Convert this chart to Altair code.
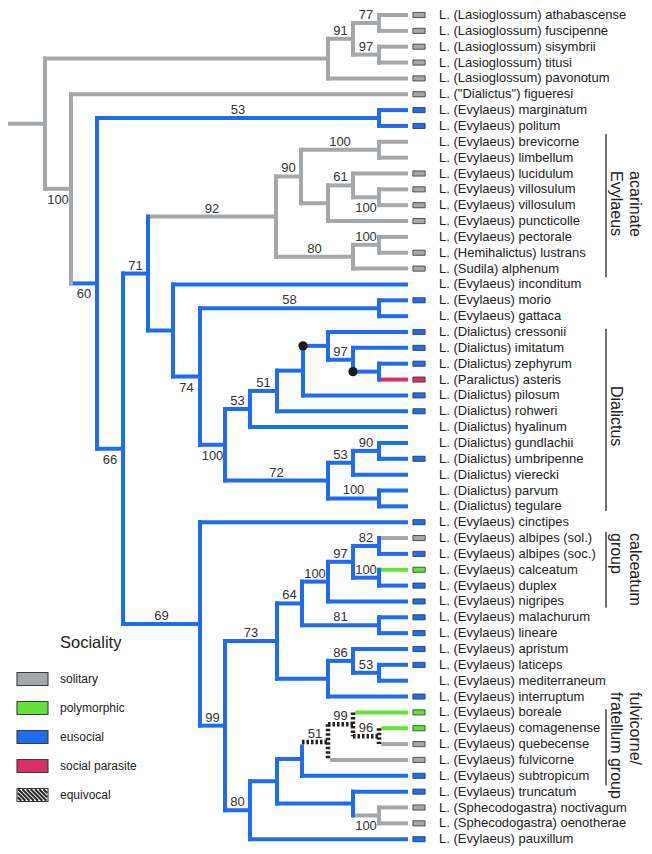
import altair as alt
import pandas as pd

# ---------------- data ----------------
LEAVES = [
    "L. (Lasioglossum) athabascense", "L. (Lasioglossum) fuscipenne",
    "L. (Lasioglossum) sisymbrii", "L. (Lasioglossum) titusi",
    "L. (Lasioglossum) pavonotum", 'L. ("Dialictus") figueresi',
    "L. (Evylaeus) marginatum", "L. (Evylaeus) politum",
    "L. (Evylaeus) brevicorne", "L. (Evylaeus) limbellum",
    "L. (Evylaeus) lucidulum", "L. (Evylaeus) villosulum",
    "L. (Evylaeus) villosulum", "L. (Evylaeus) puncticolle",
    "L. (Evylaeus) pectorale", "L. (Hemihalictus) lustrans",
    "L. (Sudila) alphenum", "L. (Evylaeus) inconditum",
    "L. (Evylaeus) morio", "L. (Evylaeus) gattaca",
    "L. (Dialictus) cressonii", "L. (Dialictus) imitatum",
    "L. (Dialictus) zephyrum", "L. (Paralictus) asteris",
    "L. (Dialictus) pilosum", "L. (Dialictus) rohweri",
    "L. (Dialictus) hyalinum", "L. (Dialictus) gundlachii",
    "L. (Dialictus) umbripenne", "L. (Dialictus) vierecki",
    "L. (Dialictus) parvum", "L. (Dialictus) tegulare",
    "L. (Evylaeus) cinctipes", "L. (Evylaeus) albipes (sol.)",
    "L. (Evylaeus) albipes (soc.)", "L. (Evylaeus) calceatum",
    "L. (Evylaeus) duplex", "L. (Evylaeus) nigripes",
    "L. (Evylaeus) malachurum", "L. (Evylaeus) lineare",
    "L. (Evylaeus) apristum", "L. (Evylaeus) laticeps",
    "L. (Evylaeus) mediterraneum", "L. (Evylaeus) interruptum",
    "L. (Evylaeus) boreale", "L. (Evylaeus) comagenense",
    "L. (Evylaeus) quebecense", "L. (Evylaeus) fulvicorne",
    "L. (Evylaeus) subtropicum", "L. (Evylaeus) truncatum",
    "L. (Sphecodogastra) noctivagum", "L. (Sphecodogastra) oenotherae",
    "L. (Evylaeus) pauxillum",
]

S, P, E, R, Q, N = "solitary", "polymorphic", "eusocial", "social parasite", "equivocal", None
TIP_BOX = [S, S, S, S, S, S, E, E, N, N, S, S, S, S, N, S, S, N, E, N,
           E, E, E, R, E, E, N, N, E, N, N, N, E, S, E, P, E, E, E, E,
           E, E, N, E, P, P, S, S, E, E, S, S, E]

# node depth (horizontal position)
NODE_X = {
    "root": 45, "Lasio": 328, "L2": 353, "L3a": 379, "L3b": 379,
    "A": 71, "B": 97, "M": 379, "C": 123, "D": 148,
    "Acar": 276, "A90": 301, "A100": 379, "Ax": 328, "A61": 353, "A100b": 379,
    "A80": 353, "A100c": 379,
    "E": 173, "E74": 200, "Mo": 379, "E100": 225, "E53": 250, "E51": 277,
    "Edot": 303, "Ecr": 328, "E97": 353, "Ez": 379, "E72": 328, "E53b": 353,
    "E90": 379, "E100d": 379,
    "N69": 200, "N99": 225, "N73": 277, "N64": 302, "N100e": 328, "N97b": 353,
    "N82": 379, "N100f": 379, "N81": 379, "Nap": 328, "N86": 353, "N53c": 379,
    "N80": 250, "Nx": 277, "N51b": 302, "Nq": 328, "N99c": 353, "N96": 379,
    "Ntr": 353, "N100g": 379,
}
TIP_DEPTH = 406
ROOT_STUB = 6

NODE_KIDS = {
    "root": ["Lasio", "A"], "Lasio": ["L2", 4], "L2": ["L3a", "L3b"],
    "L3a": [0, 1], "L3b": [2, 3],
    "A": [5, "B"], "B": ["M", "C"], "M": [6, 7], "C": ["D", "N69"], "D": ["Acar", "E"],
    "Acar": ["A90", "A80"], "A90": ["A100", "Ax"], "A100": [8, 9], "Ax": ["A61", 13],
    "A61": [10, "A100b"], "A100b": [11, 12], "A80": ["A100c", 16], "A100c": [14, 15],
    "E": [17, "E74"], "E74": ["Mo", "E100"], "Mo": [18, 19], "E100": ["E53", "E72"],
    "E53": ["E51", 26], "E51": ["Edot", 25], "Edot": ["Ecr", 24], "Ecr": [20, "E97"],
    "E97": [21, "Ez"], "Ez": [22, 23], "E72": ["E53b", "E100d"], "E53b": ["E90", 29],
    "E90": [27, 28], "E100d": [30, 31],
    "N69": [32, "N99"], "N99": ["N73", "N80"], "N73": ["N64", "Nap"],
    "N64": ["N100e", "N81"], "N100e": ["N97b", 37], "N97b": ["N82", "N100f"],
    "N82": [33, 34], "N100f": [35, 36], "N81": [38, 39], "Nap": ["N86", 43],
    "N86": [40, "N53c"], "N53c": [41, 42],
    "N80": ["Nx", 52], "Nx": ["N51b", "Ntr"], "N51b": ["Nq", 48], "Nq": ["N99c", 47],
    "N99c": [44, "N96"], "N96": [45, 46], "Ntr": [49, "N100g"], "N100g": [50, 51],
}

SUPPORT = {
    "L2": 91, "L3a": 77, "L3b": 97, "A": 100, "B": 60, "M": 53, "C": 66, "D": 71,
    "Acar": 92, "A90": 90, "A100": 100, "A61": 61, "A100b": 100, "A80": 80, "A100c": 100,
    "E74": 74, "Mo": 58, "E100": 100, "E53": 53, "E51": 51, "E97": 97, "E72": 72,
    "E53b": 53, "E90": 90, "E100d": 100, "N69": 69, "N99": 99, "N73": 73, "N64": 64,
    "N100e": 100, "N97b": 97, "N82": 82, "N100f": 100, "N81": 81, "N86": 86, "N53c": 53,
    "N80": 80, "Nq": 51, "N99c": 99, "N96": 96, "N100g": 100,
}
SUPPORT_BELOW = {"A", "B", "C", "E74", "E100", "A100b", "N100g"}
DOT_BRANCHES = ["Ecr", "Ez"]

SOLITARY_CLADES = ["Lasio", "Acar", "N100g"]
BRANCH_OVERRIDE = {"A": S, "t5": S, "t23": R, "t33": S, "t35": P, "t44": P, "t45": P,
                   "t46": S, "t47": S, "Nq": Q, "N99c": Q, "N96": Q}
VERT_OVERRIDE = {"root": S, "A": S, "Nq": Q, "N99c": Q, "N96": Q}

CLADE_NAMES = ["acarinate\nEvylaeus", "Dialictus", "calceatum\ngroup", "fulvicorne/\nfratellum group"]
CLADE_START = [7.5, 19.8, 32.6, 43.8]
CLADE_END = [16.55, 31.3, 37.4, 48.6]
CLADE_TEXT_START = [9.85, 23.4, 32.68, 42.72]

LEGEND_TITLE = "Sociality"
LEGEND_STATES = ["solitary", "polymorphic", "eusocial", "social parasite", "equivocal"]
STATE_COLORS = ["#a4a8ab", "#62e23a", "#1f6cf0", "#d92e66", "#ffffff"]

# ---------------- layout / style ----------------
FONT = "Liberation Sans"
W, H = 636, 838
LEAF0_PX, LEAF_STEP = 15.0, 15.85
Y_TOP = (8 - LEAF0_PX) / LEAF_STEP
Y_BOT = (8 + H - LEAF0_PX) / LEAF_STEP
BOX_X = 419
LABEL_X = 439
CLADE_LINE_X = 606
LEG_TOP_PX, LEG_STEP_PX = 679, 29
SW_X0, SW_X1, SW_H = 17, 48, 13
LEG_LABEL_X = 60

def px2row(py):
    return (py - LEAF0_PX) / LEAF_STEP

# ---------------- build tree geometry ----------------
def nid(n):
    return f"t{n}" if isinstance(n, int) else n

branch_state, vert_state = {}, {}

def paint(n, st):
    branch_state[nid(n)] = st
    if not isinstance(n, int):
        vert_state[n] = st
        for k in NODE_KIDS[n]:
            paint(k, st)

for c in SOLITARY_CLADES:
    paint(c, S)
branch_state.update(BRANCH_OVERRIDE)
vert_state.update(VERT_OVERRIDE)

ycache = {}
def ny(n):
    if isinstance(n, int):
        return float(n)
    if n not in ycache:
        k = NODE_KIDS[n]
        ycache[n] = (ny(k[0]) + ny(k[-1])) / 2
    return ycache[n]

def nx(n):
    return TIP_DEPTH if isinstance(n, int) else NODE_X[n]

hseg, vseg, labels, dots = [], [], [], []
hseg.append(dict(x=ROOT_STUB, x2=NODE_X["root"], y=ny("root"), y2=ny("root"), state=S))

def walk(n):
    kids = NODE_KIDS[n]
    vseg.append(dict(x=nx(n), x2=nx(n), y=ny(kids[0]), y2=ny(kids[-1]),
                     state=vert_state.get(n, E)))
    for k in kids:
        hseg.append(dict(x=nx(n), x2=nx(k), y=ny(k), y2=ny(k),
                         state=branch_state.get(nid(k), E)))
        if nid(k) in SUPPORT:
            labels.append(dict(x=(nx(n) + nx(k)) / 2, y=ny(k), text=str(SUPPORT[nid(k)]),
                               pos="below" if nid(k) in SUPPORT_BELOW else "above"))
        if nid(k) in DOT_BRANCHES:
            dots.append(dict(x=nx(n), y=ny(k)))
        if not isinstance(k, int):
            walk(k)

walk("root")

segs = pd.DataFrame(hseg + vseg)
segs["kind"] = ["h"] * len(hseg) + ["v"] * len(vseg)
lab_df = pd.DataFrame(labels)
dot_df = pd.DataFrame(dots)

leaf_df = pd.DataFrame({"name": LEAVES, "y": [float(i) for i in range(len(LEAVES))],
                        "state": TIP_BOX})
leaf_df["lx"] = LABEL_X
leaf_df["bx"] = BOX_X
box_df = leaf_df.dropna(subset=["state"])

clade_df = pd.DataFrame({"name": CLADE_NAMES, "y": CLADE_START, "y2": CLADE_END,
                         "ty": CLADE_TEXT_START})
clade_df["x"] = CLADE_LINE_X
clade_df["tx"] = [CLADE_LINE_X + 18 + 19 * s.count("\n") for s in CLADE_NAMES]

# legend rows (drawn as marks)
leg_cy = [LEG_TOP_PX + LEG_STEP_PX * i for i in range(len(LEGEND_STATES))]
leg_df = pd.DataFrame({
    "state": LEGEND_STATES,
    "x": SW_X0, "x2": SW_X1, "lx": LEG_LABEL_X,
    "y": [px2row(c - SW_H / 2) for c in leg_cy],
    "y2": [px2row(c + SW_H / 2) for c in leg_cy],
    "yc": [px2row(c) for c in leg_cy],
})
# hatch stripes for the 'equivocal' swatch
hc = leg_cy[LEGEND_STATES.index("equivocal")]
top, bot = hc - SW_H / 2 + 0.8, hc + SW_H / 2 - 0.8
hs = []
x0 = SW_X0 - (bot - top)
while x0 < SW_X1:
    ax, ay, bx, by = x0, top, x0 + (bot - top), bot
    if ax < SW_X0 + 0.8:
        ay += (SW_X0 + 0.8 - ax)
        ax = SW_X0 + 0.8
    if bx > SW_X1 - 0.8:
        by -= (bx - (SW_X1 - 0.8))
        bx = SW_X1 - 0.8
    if bx - ax > 0.8:
        hs.append(dict(x=ax, x2=bx, y=px2row(ay), y2=px2row(by)))
    x0 += 4.2
hatch_df = pd.DataFrame(hs)

# ---------------- chart ----------------
xs = alt.Scale(domain=[8, 8 + W], nice=False, zero=False)
ys = alt.Scale(domain=[Y_TOP, Y_BOT], nice=False, zero=False, reverse=True)
cs = alt.Scale(domain=LEGEND_STATES, range=STATE_COLORS)

X = lambda f: alt.X(f, scale=xs, axis=None)
Y = lambda f: alt.Y(f, scale=ys, axis=None)
COL = alt.Color("state:N", scale=cs, legend=None)

solid = segs[segs.state != Q]
equiv = segs[segs.state == Q]

h_layer = alt.Chart(solid[solid.kind == "h"]).mark_rule(strokeWidth=4, strokeCap="square").encode(
    x=X("x:Q"), x2="x2:Q", y=Y("y:Q"), y2="y2:Q", color=COL)
v_layer = alt.Chart(solid[solid.kind == "v"]).mark_rule(strokeWidth=4, strokeCap="square").encode(
    x=X("x:Q"), x2="x2:Q", y=Y("y:Q"), y2="y2:Q", color=COL)
q_base = alt.Chart(equiv).mark_rule(strokeWidth=4.5, strokeCap="square", color="#ffffff").encode(
    x=X("x:Q"), x2="x2:Q", y=Y("y:Q"), y2="y2:Q")
q_layer = alt.Chart(equiv).mark_rule(strokeWidth=4.5, strokeDash=[2.5, 2], color="#222222").encode(
    x=X("x:Q"), x2="x2:Q", y=Y("y:Q"), y2="y2:Q")

dot_layer = alt.Chart(dot_df).mark_circle(size=85, color="#1a1a1a", opacity=1).encode(
    x=X("x:Q"), y=Y("y:Q"))

sup_above = alt.Chart(lab_df[lab_df.pos == "above"]).mark_text(
    font=FONT, fontSize=13, color="#333333", baseline="middle", dy=-8).encode(
    x=X("x:Q"), y=Y("y:Q"), text="text:N")
sup_below = alt.Chart(lab_df[lab_df.pos == "below"]).mark_text(
    font=FONT, fontSize=13, color="#333333", baseline="middle", dy=11).encode(
    x=X("x:Q"), y=Y("y:Q"), text="text:N")

box_layer = alt.Chart(box_df).mark_point(
    filled=True, shape="M-1,-0.42L1,-0.42L1,0.42L-1,0.42Z", size=150,
    stroke="#333333", strokeWidth=0.8, opacity=1).encode(
    x=X("bx:Q"), y=Y("y:Q"), color=COL)

leaf_text = alt.Chart(leaf_df).mark_text(
    font=FONT, fontSize=13, color="#222222", align="left", baseline="middle").encode(
    x=X("lx:Q"), y=Y("y:Q"), text="name:N")

clade_rule = alt.Chart(clade_df).mark_rule(strokeWidth=1.2, color="#111111").encode(
    x=X("x:Q"), y=Y("y:Q"), y2="y2:Q")
clade_text = alt.Chart(clade_df).mark_text(
    font=FONT, fontSize=16, color="#222222", angle=90, align="left", baseline="top",
    lineBreak="\n", lineHeight=19).encode(
    x=X("tx:Q"), y=Y("ty:Q"), text="name:N")

# legend
leg_swatch = alt.Chart(leg_df).mark_rect(stroke="#3a3a3a", strokeWidth=1.1, opacity=1).encode(
    x=X("x:Q"), x2="x2:Q", y=Y("y:Q"), y2="y2:Q", color=COL)
leg_hatch = alt.Chart(hatch_df).mark_rule(strokeWidth=2.1, color="#2a2a2a").encode(
    x=X("x:Q"), x2="x2:Q", y=Y("y:Q"), y2="y2:Q")
leg_text = alt.Chart(leg_df).mark_text(
    font=FONT, fontSize=12, color="#222222", align="left", baseline="middle").encode(
    x=X("lx:Q"), y=Y("yc:Q"), text="state:N")
title_layer = alt.Chart(pd.DataFrame({"t": [LEGEND_TITLE]})).mark_text(
    font=FONT, fontSize=16.5, color="#222222", align="left", baseline="middle").encode(
    x=alt.value(LEG_LABEL_X - 8), y=alt.value(635), text="t:N")

chart = alt.layer(
    h_layer, v_layer, q_base, q_layer, dot_layer, sup_above, sup_below,
    box_layer, leaf_text, clade_rule, clade_text,
    leg_swatch, leg_hatch, leg_text, title_layer,
).properties(
    width=W, height=H, autosize=alt.AutoSizeParams(type="none"), padding=0,
    background="white",
).configure_view(stroke=None)

chart.save("out.html", embed_options={"renderer": "svg", "actions": False})
